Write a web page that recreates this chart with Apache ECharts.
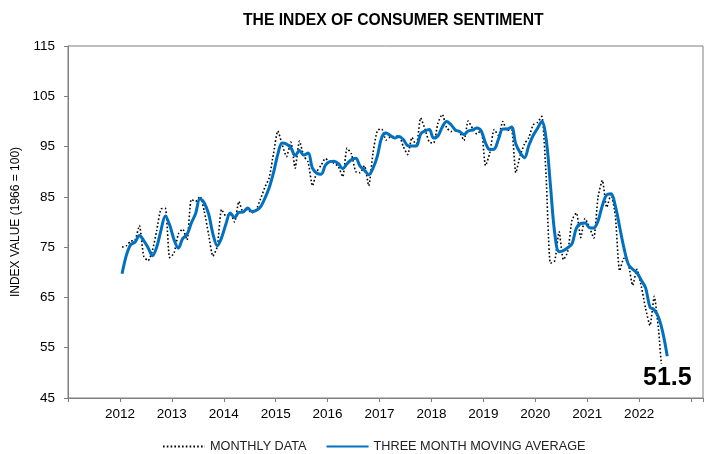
<!DOCTYPE html>
<html>
<head>
<meta charset="utf-8">
<script src="https://cdn.jsdelivr.net/npm/echarts@6/dist/echarts.min.js"></script>
<style>
  html, body { margin: 0; padding: 0; background: #fff; }
  #chart { width: 714px; height: 454px; }
</style>
</head>
<body>
<div id="chart"></div>
<script>
// monthly index, Jan 2012 .. Jul 2022
const startYear = 2012;
const monthly = [
  75.0, 75.3, 76.2, 76.4, 79.3, 73.2, 72.3, 74.3, 78.3, 82.6, 82.7, 72.9,
  73.8, 77.6, 78.6, 76.4, 84.5, 84.1, 85.1, 82.1, 77.5, 73.2, 75.1, 82.5,
  81.2, 81.6, 80.0, 84.1, 81.9, 82.5, 81.8, 82.5, 84.6, 86.9, 88.8, 93.6,
  98.1, 95.4, 93.0, 95.9, 90.7, 96.1, 93.1, 91.9, 87.2, 90.0, 91.3, 92.6,
  92.0, 91.7, 91.0, 89.0, 94.7, 93.5, 90.0, 89.8, 91.2, 87.2, 93.8, 98.2,
  98.5, 96.3, 96.9, 97.0, 97.1, 95.0, 93.4, 96.8, 95.1, 100.7, 98.5, 95.9,
  95.7, 99.7, 101.4, 98.8, 98.0, 98.2, 97.9, 96.2, 100.1, 98.6, 97.5, 98.3,
  91.2, 93.8, 98.4, 97.2, 100.0, 98.2, 98.4, 89.8, 93.2, 95.5, 96.8, 99.3,
  99.8, 101.0, 89.1, 71.8, 72.3, 78.1, 72.5, 74.1, 80.4, 81.8, 76.9, 80.7,
  79.0, 76.8, 84.9, 88.3, 82.9, 85.5, 81.2, 70.3, 72.8, 71.7, 67.4, 70.6,
  67.2, 62.8, 59.4, 65.2, 58.4, 50.0, 51.5
];

// three month moving average, same months
const movingAvg = [
  69.7, 73.4, 75.5, 76.0, 77.3, 76.3, 74.9, 73.3, 75.0, 78.4, 81.2, 79.4,
  76.5, 74.8, 76.7, 77.5, 79.8, 81.7, 84.6, 83.8, 81.6, 77.6, 75.3, 76.9,
  79.6, 81.8, 80.9, 81.9, 82.0, 82.8, 82.1, 82.3, 83.0, 84.7, 86.8, 89.8,
  93.5, 95.7, 95.5, 94.8, 93.2, 94.2, 93.3, 93.7, 90.7, 89.7, 89.5, 91.3,
  92.0, 92.1, 91.6, 90.6, 91.6, 92.4, 92.7, 91.1, 90.3, 89.4, 90.7, 93.1,
  96.8, 97.7, 97.2, 96.7, 97.0, 96.4, 95.2, 95.1, 95.1, 97.5, 98.1, 98.4,
  96.7, 97.1, 98.9, 100.0, 99.4, 98.3, 98.0, 97.4, 98.1, 98.3, 98.7, 98.1,
  95.7, 94.4, 94.5, 96.5, 98.5, 98.5, 98.9, 95.5, 93.8, 92.8, 95.2, 97.2,
  98.6, 100.0, 96.6, 87.3, 77.7, 74.1, 74.3, 74.9, 75.7, 78.8, 79.7, 79.8,
  78.9, 78.8, 80.2, 83.3, 85.4, 85.6, 83.2, 79.0, 74.8, 71.6, 70.6, 69.9,
  68.4, 66.9, 63.1, 62.5, 61.0, 57.9, 53.3
];

const yearLabels = ['2012', '2013', '2014', '2015', '2016', '2017', '2018', '2019', '2020', '2021', '2022'];
const yTicks = [45, 55, 65, 75, 85, 95, 105, 115];

const toPoints = (arr) => arr.map((v, i) => [startYear + (i + 0.5) / 12, v]);

const fontFamily = 'Liberation Sans, Arial, sans-serif';
const lastValue = monthly[monthly.length - 1];

const chartDom = document.getElementById('chart');
const chartInstance = echarts.init(chartDom);

const option = {
  animation: false,
  textStyle: { fontFamily },
  title: {
    text: 'THE INDEX OF CONSUMER SENTIMENT',
    left: 238,
    top: 8,
    textStyle: { fontSize: 15.7, fontWeight: 'bold', color: '#000', fontFamily },
  },
  legend: {
    left: 157,
    top: 435,
    itemWidth: 42,
    itemHeight: 10,
    itemGap: 19,
    itemStyle: { opacity: 0 },
    textStyle: { fontSize: 12.7, color: '#222', fontFamily },
    data: ['MONTHLY DATA', 'THREE MONTH MOVING AVERAGE'],
  },
  grid: {
    left: 68,
    right: 11,
    top: 46,
    bottom: 56,
    show: true,
    borderColor: '#7f7f7f',
    borderWidth: 1,
  },
  xAxis: {
    type: 'value',
    min: 2011,
    max: 2023.23,
    interval: 1,
    splitLine: { show: false },
    axisLine: { lineStyle: { color: '#7f7f7f' } },
    axisTick: { show: true, length: 4, lineStyle: { color: '#7f7f7f' } },
    axisLabel: {
      color: '#000',
      fontSize: 13.5,
      margin: 9,
      showMinLabel: true,
      showMaxLabel: true,
      formatter: (v) => {
        const r = Math.round(v);
        if (Math.abs(v - r) > 1e-6) return '';
        const s = String(r);
        return yearLabels.includes(s) ? s : '';
      },
    },
  },
  yAxis: {
    type: 'value',
    min: yTicks[0],
    max: yTicks[yTicks.length - 1],
    interval: 10,
    name: 'INDEX VALUE (1966 = 100)',
    nameLocation: 'middle',
    nameRotate: 90,
    nameGap: 44,
    nameTextStyle: { fontSize: 12, color: '#000', fontFamily },
    splitLine: { show: false },
    axisLine: { show: true, lineStyle: { color: '#7f7f7f' } },
    axisTick: { show: true, length: 4, lineStyle: { color: '#7f7f7f' } },
    axisLabel: { color: '#000', fontSize: 13.5, margin: 13 },
  },
  series: [
    {
      name: 'MONTHLY DATA',
      type: 'line',
      data: toPoints(monthly),
      symbol: 'none',
      smooth: 0.2,
      z: 2,
      lineStyle: { color: '#000', width: 1.6, type: [1.6, 2.2] },
      itemStyle: { color: '#000' },
    },
    {
      name: 'THREE MONTH MOVING AVERAGE',
      type: 'line',
      data: toPoints(movingAvg),
      symbol: 'none',
      smooth: 0.35,
      z: 3,
      lineStyle: { color: '#0070C0', width: 3 },
      itemStyle: { color: '#0070C0' },
    },
  ],
  graphic: [
    {
      type: 'text',
      left: 642,
      top: 364,
      z: 10,
      style: {
        text: String(lastValue),
        fontSize: 25,
        fontWeight: 'bold',
        fill: '#000',
        fontFamily,
        backgroundColor: '#fff',
        padding: [2, 1, 0, 1],
      },
    },
  ],
};

chartInstance.setOption(option);
</script>
</body>
</html>
